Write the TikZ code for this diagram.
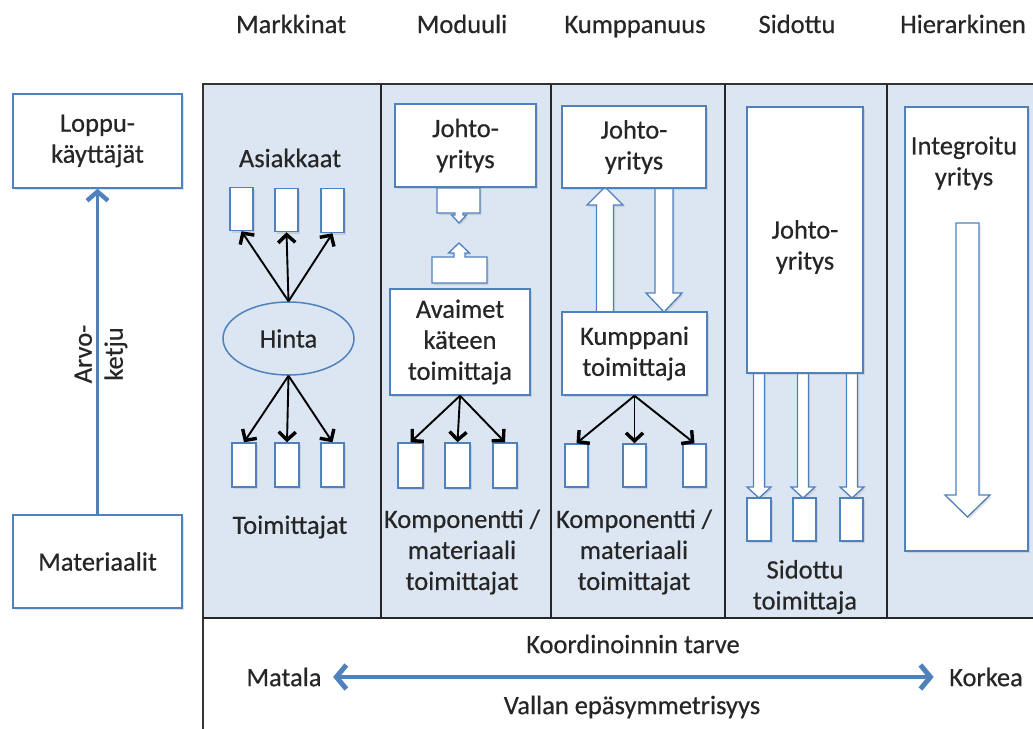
\documentclass[tikz,border=0pt]{standalone}
\usepackage{fontspec}
\setmainfont{Carlito}[FakeBold=0.5]
\usetikzlibrary{arrows.meta,shapes.geometric,shadows}
\definecolor{boxblue}{HTML}{4F81BD}
\definecolor{panel}{HTML}{DCE6F2}
\definecolor{txt}{HTML}{262626}
\begin{document}
\begin{tikzpicture}[x=1pt,y=-1pt,
  every node/.style={font=\fontsize{26.5}{31}\selectfont, text=txt},
  shad/.style={drop shadow={opacity=0.22, shadow xshift=1.5pt, shadow yshift=-2pt}},
  bbox/.style={draw=boxblue, fill=white, line width=1.5pt, inner sep=0pt, align=center, shad},
  sbox/.style={bbox, minimum width=23pt, minimum height=43pt},
  blk/.style={draw=black, line width=1.9pt, -{Straight Barb[length=8pt,width=17pt,line width'=3.4pt]}},
  barrow/.style={draw=boxblue, fill=white, line width=1.3pt, line join=miter, shad},
  bluearr/.style={draw=boxblue, line width=3.4pt, -{Straight Barb[length=9pt,width=21pt,line width'=4.4pt]}},
  bluedbl/.style={draw=boxblue, line width=4pt, {Straight Barb[length=10pt,width=24pt,line width'=5pt]}-{Straight Barb[length=10pt,width=24pt,line width'=5pt]}},
  plain/.style={align=center},
  head/.style={anchor=base}
]
\useasboundingbox (0,0) rectangle (1033,728);
\clip (0,0) rectangle (1033,728);

% ---- frame ----
\fill[panel] (203,84) rectangle (1040,618);
\draw[line width=1.5pt, black!80] (203,735) -- (203,84) -- (1040,84);
\draw[line width=2.6pt, black!85] (203,618) -- (1040,618);
\foreach \xx in {381,551,725,887} \draw[line width=1.6pt, black!85] (\xx,84) -- (\xx,618);

% ---- headers ----
\node[head] (h1) at (291,33) {Markkinat};
\node[head] (h2) at (462,33) {Moduuli};
\node[head] (h3) at (635,33) {Kumppanuus};
\node[head] (h4) at (797,33) {Sidottu};
\node[head] (h5) at (963,33) {Hierarkinen};

% ---- left value chain ----
\node[bbox, minimum width=169pt, minimum height=94pt] (lop) at (97.5,141) {Loppu-\\käyttäjät};
\node[bbox, minimum width=169pt, minimum height=93pt] (mater) at (97.5,561.5) {Materiaalit};
\draw[bluearr] (mater.north) -- (lop.south);
\node[rotate=90, plain] (arvo) at (101,354) {Arvo-\\ketju};

% ---- Markkinat ----
\node (asi) at (290,158) {Asiakkaat};
\node[sbox] (a1) at (241.5,209) {};
\node[sbox] (a2) at (286.5,210) {};
\node[sbox, minimum height=44pt] (a3) at (332.5,210.5) {};
\node[ellipse, draw=boxblue, fill=panel, line width=1.5pt, minimum width=131pt, minimum height=73pt, inner sep=0pt] (hinta) at (288.5,338.5) {Hinta};
\draw[blk] (hinta.north) -- (a1.south);
\draw[blk] (hinta.north) -- (a2.south);
\draw[blk] (hinta.north) -- (a3.south);
\node[sbox, minimum width=24pt, minimum height=44pt] (b1) at (244,465) {};
\node[sbox, minimum width=24pt, minimum height=44pt] (b2) at (287,465) {};
\node[sbox, minimum width=23pt, minimum height=44pt] (b3) at (332.5,465) {};
\draw[blk] (hinta.south) -- (b1.north);
\draw[blk] (hinta.south) -- (b2.north);
\draw[blk] (hinta.south) -- (b3.north);
\node (toim) at (290,527) {Toimittajat};

% ---- Moduuli ----
\node[bbox, minimum width=141pt, minimum height=83pt] (mj) at (465.5,145.5) {Johto-\\yritys};
\draw[barrow] (437,188) -- (480,188) -- (480,213) -- (463,213) -- (463,215) -- (466.5,215) -- (459,223)
  -- (451.5,215) -- (455,215) -- (455,213) -- (437,213) -- cycle;
\draw[barrow] (432,257) -- (454,257) -- (454,253) -- (448.5,253) -- (459,243) -- (469.5,253)
  -- (465,253) -- (465,257) -- (487,257) -- (487,283) -- (432,283) -- cycle;
\node[bbox, minimum width=140pt, minimum height=106pt] (avk) at (460,342) {Avaimet\\käteen\\toimittaja};
\node[sbox, minimum width=25pt, minimum height=45pt] (c1) at (410.5,465.5) {};
\node[sbox, minimum width=25pt, minimum height=45pt] (c2) at (457.5,465.5) {};
\node[sbox, minimum width=24pt, minimum height=45pt] (c3) at (505,465.5) {};
\draw[blk] (avk.south) -- (c1.north);
\draw[blk] (avk.south) -- (c2.north);
\draw[blk] (avk.south) -- (c3.north);
\node[plain] (komp1) at (462,552) {Komponentti /\\materiaali\\toimittajat};

% ---- Kumppanuus ----
\draw[barrow] (596.5,312) -- (596.5,205) -- (587,205) -- (605,187) -- (623,205) -- (613.5,205) -- (613.5,312) -- cycle;
\draw[barrow] (655,188) -- (673,188) -- (673,293) -- (682,293) -- (664,312) -- (646,293) -- (655,293) -- cycle;
\node[bbox, minimum width=144pt, minimum height=82pt] (kj) at (634,147) {Johto-\\yritys};
\node[bbox, minimum width=145pt, minimum height=83pt] (kt) at (634.5,353.5) {Kumppani\\toimittaja};
\node[sbox] (d1) at (576.5,465.5) {};
\node[sbox] (d2) at (634.5,465.5) {};
\node[sbox] (d3) at (694.5,465.5) {};
\draw[blk] (kt.south) -- (d1.north);
\draw[blk] (kt.south) -- (d2.north);
\draw[blk] (kt.south) -- (d3.north);
\node[plain] (komp2) at (634,552) {Komponentti /\\materiaali\\toimittajat};

% ---- Sidottu ----
\foreach \cx in {759,803,852}{
  \draw[barrow] (\cx-5.5,373) -- (\cx+5.5,373) -- (\cx+5.5,487) -- (\cx+12,487) -- (\cx,498) -- (\cx-12,487) -- (\cx-5.5,487) -- cycle;
}
\node[bbox, minimum width=116pt, minimum height=266pt] (sj) at (805,240) {};
\node[plain] (sjt) at (805,247) {Johto-\\yritys};
\node[sbox, minimum width=24pt] (e1) at (759,519.5) {};
\node[sbox, minimum width=23pt] (e2) at (804.5,519.5) {};
\node[sbox, minimum width=23pt] (e3) at (851.5,519.5) {};
\node[plain] (sto) at (805,587) {Sidottu\\toimittaja};

% ---- Hierarkinen ----
\node[bbox, minimum width=123pt, minimum height=444pt] (hi) at (966.5,329) {};
\node[plain] (hit) at (964,163) {Integroitu\\yritys};
\draw[barrow] (956,223) -- (979,223) -- (979,495) -- (990,495) -- (967.5,517) -- (945,495) -- (956,495) -- cycle;

% ---- bottom scale ----
\node (koo) at (633,644) {Koordinoinnin tarve};
\node (mat) at (284,677) {Matala};
\node (kor) at (986,677) {Korkea};
\draw[bluedbl, shorten <=8pt, shorten >=12pt] (mat.east) -- (kor.west);
\node (val) at (632,707) {Vallan epäsymmetrisyys};
\end{tikzpicture}
\end{document}
